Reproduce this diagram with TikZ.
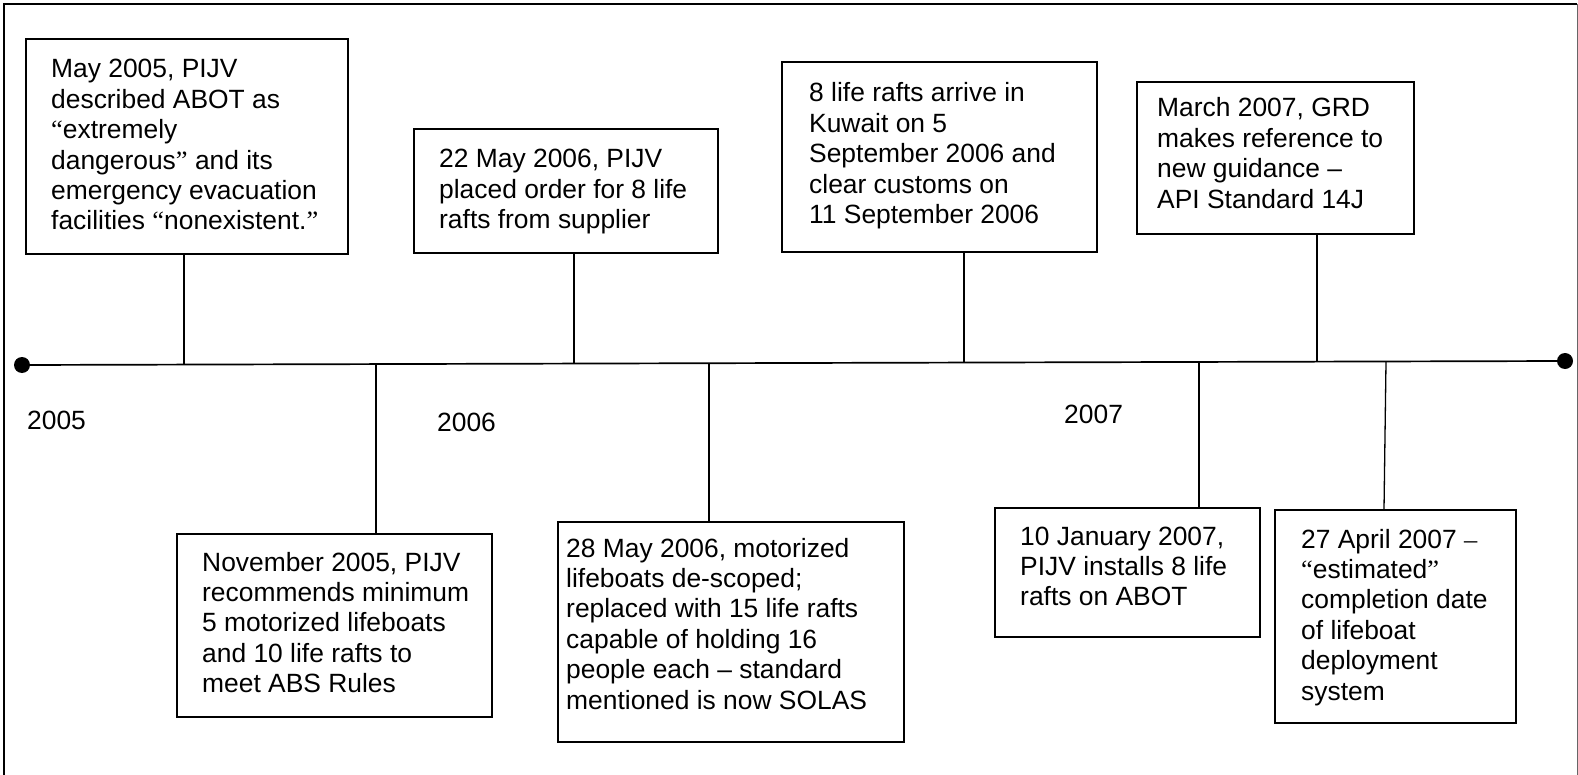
\documentclass[tikz,border=0pt]{standalone}
\usepackage{fontspec}
\setmainfont{Liberation Sans}
\newfontfamily\qfont{Liberation Serif}
\usetikzlibrary{calc}
\newcommand{\boxtext}[1]{\vtop{\hsize=500pt\parindent=0pt\raggedright #1\par}}
\newcommand{\myoq}{{\qfont “}}
\newcommand{\mycq}{{\qfont ”}}
\begin{document}
\begin{tikzpicture}[x=1pt,y=-1pt,
  evbox/.style={draw=black,line width=1.6pt,rectangle,inner sep=0pt,anchor=north west},
  evtext/.style={anchor=base west,inner sep=0pt,font=\fontsize{26.4}{30.4}\selectfont},
  tick/.style={line width=1.3pt,black},
  tline/.style={line width=1.7pt,black},
  frame/.style={line width=2pt,black}]
\useasboundingbox (0,0) rectangle (1578,775);
\fill[white] (0,0) rectangle (1578,775);
% frame
\draw[frame] (4,775) -- (4,4) -- (1577,4);
\draw[line width=1pt,black!60] (1577.5,4) -- (1577.5,775);
% timeline
\coordinate (L) at (22,365);
\coordinate (R) at (1565,361);
\draw[tline] (L) -- (R);
\fill (L) circle (8);
\fill (R) circle (8);
\coordinate (t1) at (184,364.6);
\coordinate (t5) at (376,364.1);
\coordinate (t2) at (574,363.6);
\coordinate (t6) at (709,363.2);
\coordinate (t3) at (964,362.6);
\coordinate (t7) at (1199,361.9);
\coordinate (t4) at (1317,361.6);
\coordinate (t8) at (1386,361.5);
% boxes
\node[evbox,minimum width=322pt,minimum height=215pt] (b1) at (25,38) {};
\node[evbox,minimum width=304pt,minimum height=124pt] (b2) at (413,128) {};
\node[evbox,minimum width=315pt,minimum height=190pt] (b3) at (781,61) {};
\node[evbox,minimum width=277pt,minimum height=152pt] (b4) at (1136,81) {};
\node[evbox,minimum width=315pt,minimum height=183pt] (b5) at (176,533) {};
\node[evbox,minimum width=346pt,minimum height=220pt] (b6) at (557,521) {};
\node[evbox,minimum width=265pt,minimum height=129pt] (b7) at (994,507) {};
\node[evbox,minimum width=241pt,minimum height=213pt] (b8) at (1274,509) {};
% texts
\node[evtext] (b1t) at (51,78) {\boxtext{May 2005, PIJV\\described ABOT as\\\myoq extremely\\dangerous\mycq\ and its\\emergency evacuation\\facilities \myoq nonexistent.\mycq}};
\node[evtext] (b2t) at (439,168) {\boxtext{22 May 2006, PIJV\\placed order for 8 life\\rafts from supplier}};
\node[evtext] (b3t) at (809,102) {\boxtext{8 life rafts arrive in\\Kuwait on 5\\September 2006 and\\clear customs on\\11 September 2006}};
\node[evtext] (b4t) at (1157,117) {\boxtext{March 2007, GRD\\makes reference to\\new guidance –\\API Standard 14J}};
\node[evtext] (b5t) at (202,571) {\boxtext{November 2005, PIJV\\recommends minimum\\5 motorized lifeboats\\and 10 life rafts to\\meet ABS Rules}};
\node[evtext] (b6t) at (566,557) {\boxtext{28 May 2006, motorized\\lifeboats de-scoped;\\replaced with 15 life rafts\\capable of holding 16\\people each – standard\\mentioned is now SOLAS}};
\node[evtext] (b7t) at (1020,545) {\boxtext{10 January 2007,\\PIJV installs 8 life\\rafts on ABOT}};
\node[evtext] (b8t) at (1301,548) {\boxtext{27 April 2007 {\qfont –}\\\myoq estimated\mycq\\completion date\\of lifeboat\\deployment\\system}};
% years
\node[evtext] (y2005) at (27,429) {2005};
\node[evtext] (y2006) at (437,431) {2006};
\node[evtext] (y2007) at (1064,423) {2007};
% connectors
\draw[tick] (b1.south -| t1) -- (t1);
\draw[tick] (b2.south -| t2) -- (t2);
\draw[tick] (b3.south -| t3) -- (t3);
\draw[tick] (b4.south -| t4) -- (t4);
\draw[tick] (t5) -- (b5.north -| t5);
\draw[tick] (t6) -- (b6.north -| t6);
\draw[tick] (t7) -- (b7.north -| t7);
\draw[tick] (t8) -- ($(b8.north west)+(110,0)$);
\end{tikzpicture}
\end{document}
